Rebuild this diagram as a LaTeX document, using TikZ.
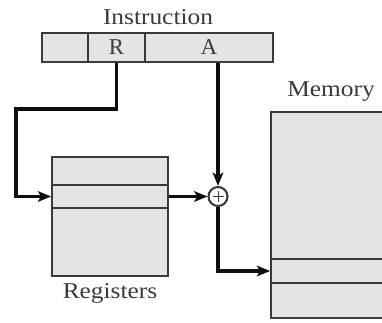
\documentclass[tikz,border=0pt]{standalone}
\usepackage{fontspec}
\setmainfont{Liberation Serif}
\usetikzlibrary{positioning,arrows.meta,calc}
\definecolor{ink}{HTML}{0E0E0E}
\definecolor{edge}{HTML}{3A3A3A}
\definecolor{cell}{HTML}{E4E4E4}
\definecolor{label}{HTML}{3A3A3A}

\begin{document}
\begin{tikzpicture}[x=0.75pt,y=-0.75pt,
    field/.style={draw=edge,fill=cell,line width=1.3pt,inner sep=0pt,font=\fontsize{17}{19}\selectfont,text=label},
    caption/.style={font=\fontsize{17}{19}\selectfont,text=label,xscale=1.12,transform shape,inner sep=0pt},
    flow/.style={line width=2.7pt,color=ink,-{Stealth[length=10pt,width=8pt,inset=2.5pt]}}]
  \useasboundingbox (0,0) rectangle (382,322);
  \clip (0,0) rectangle (382,322);

  \node[field,minimum width=46*0.75pt,minimum height=29*0.75pt] (f0) at (65,47.5) {};
  \node[field,minimum width=57*0.75pt,minimum height=29*0.75pt] (fR) at (116.5,47.5) {R};
  \node[field,minimum width=128*0.75pt,minimum height=29*0.75pt] (fA) at (209,47.5) {A};
  \node[caption] (instr) at (158,17) {Instruction};

  \node[field,minimum width=116*0.75pt,minimum height=28*0.75pt] (r1) at (110,171) {};
  \node[field,minimum width=116*0.75pt,minimum height=23*0.75pt] (r2) at (110,196.5) {};
  \node[field,minimum width=116*0.75pt,minimum height=68*0.75pt] (r3) at (110,242) {};
  \node[caption] (regs) at (110,293) {Registers};

  \node[field,minimum width=124*0.75pt,minimum height=147*0.75pt] (m1) at (333,185.5) {};
  \node[field,minimum width=124*0.75pt,minimum height=24*0.75pt] (m2) at (333,271) {};
  \node[field,minimum width=124*0.75pt,minimum height=35*0.75pt] (m3) at (333,300.5) {};
  \node[caption] (mem) at (331,92) {Memory};

  \node[circle,draw=edge,fill=white,line width=1.6pt,minimum size=19*0.75pt,inner sep=0pt] (adder) at (218,196.5) {};
  \draw[edge,line width=0.7pt] ($(adder.center)+(-5.5,0)$) -- ($(adder.center)+(5.5,0)$);
  \draw[edge,line width=0.7pt] ($(adder.center)+(0,-5.5)$) -- ($(adder.center)+(0,5.5)$);

  \coordinate (bend) at (16,109);
  \draw[flow] (fR.south) |- (bend) |- (r2.west);
  \draw[flow] (r2.east) -- (adder.west);
  \draw[flow] (fA.south -| adder.north) -- (adder.north);
  \draw[flow] (adder.south) |- (m2.west);
\end{tikzpicture}
\end{document}
